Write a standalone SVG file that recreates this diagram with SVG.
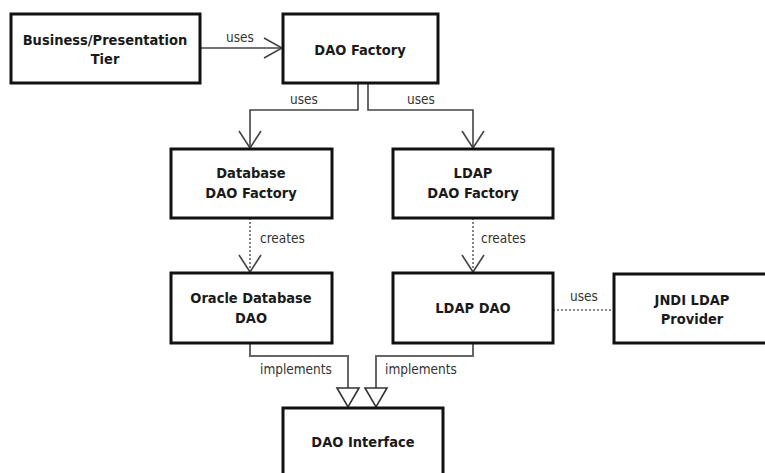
<svg xmlns="http://www.w3.org/2000/svg" width="765" height="473" viewBox="0 0 765 473">
  <style>
    .box { fill: #ffffff; stroke: #111111; stroke-width: 3; }
    .title { font-family: "DejaVu Sans Condensed", "Liberation Sans", sans-serif; font-weight: bold; font-size: 14.5px; fill: #1a1a1a; text-anchor: middle; }
    .lbl { font-family: "DejaVu Sans Condensed", "Liberation Sans", sans-serif; font-size: 13.5px; fill: #333333; }
    .line { fill: none; stroke: #444444; stroke-width: 1.6; }
    .dash { fill: none; stroke: #666666; stroke-width: 1.6; stroke-dasharray: 2 2; }
    .impl { fill: none; stroke: #666666; stroke-width: 2; }
    .chev { fill: none; stroke: #444444; stroke-width: 1.6; }
    .tri { fill: #ffffff; stroke: #333333; stroke-width: 1.6; }
  </style>
  <rect width="765" height="473" fill="#ffffff"/>

  <!-- connectors -->
  <g id="connectors">
    <!-- Business tier uses DAO Factory -->
    <path class="line" d="M200 48 H282"/>
    <path class="chev" d="M264 38 L282 48 L264 58"/>
    <text class="lbl" x="226" y="42">uses</text>

    <!-- DAO Factory uses Database DAO Factory -->
    <path class="line" d="M358 83 V110 H250 V148"/>
    <path class="chev" d="M239 131 L250 148 L261 131"/>
    <text class="lbl" x="290" y="104">uses</text>

    <!-- DAO Factory uses LDAP DAO Factory -->
    <path class="line" d="M368 83 V110 H473 V148"/>
    <path class="chev" d="M462 131 L473 148 L484 131"/>
    <text class="lbl" x="407" y="104">uses</text>

    <!-- creates -->
    <path class="dash" d="M250 218 V271"/>
    <path class="chev" d="M239 255 L250 272 L261 255"/>
    <text class="lbl" x="260" y="243">creates</text>

    <path class="dash" d="M473 218 V271"/>
    <path class="chev" d="M462 255 L473 272 L484 255"/>
    <text class="lbl" x="481" y="243">creates</text>

    <!-- LDAP DAO uses JNDI provider -->
    <path class="dash" d="M553 310 H614"/>
    <text class="lbl" x="570" y="301">uses</text>

    <!-- implements -->
    <path class="impl" d="M250 343 V356 H348 V388"/>
    <path class="tri" d="M337 388 H359 L348 407 Z"/>
    <text class="lbl" x="260" y="374">implements</text>

    <path class="impl" d="M473 343 V356 H376 V388"/>
    <path class="tri" d="M365 388 H387 L376 407 Z"/>
    <text class="lbl" x="385" y="374">implements</text>
  </g>

  <g id="business-tier">
    <rect class="box" x="11" y="14" width="189" height="69"/>
    <text class="title" x="105" y="45">Business/Presentation</text>
    <text class="title" x="105" y="64">Tier</text>
  </g>

  <g id="dao-factory">
    <rect class="box" x="283" y="14" width="155" height="69"/>
    <text class="title" x="360" y="55">DAO Factory</text>
  </g>

  <g id="database-dao-factory">
    <rect class="box" x="171" y="149" width="161" height="69"/>
    <text class="title" x="251" y="178">Database</text>
    <text class="title" x="251" y="198">DAO Factory</text>
  </g>

  <g id="ldap-dao-factory">
    <rect class="box" x="393" y="149" width="160" height="69"/>
    <text class="title" x="473" y="178">LDAP</text>
    <text class="title" x="473" y="198">DAO Factory</text>
  </g>

  <g id="oracle-database-dao">
    <rect class="box" x="171" y="273" width="161" height="70"/>
    <text class="title" x="251" y="303">Oracle Database</text>
    <text class="title" x="251" y="323">DAO</text>
  </g>

  <g id="ldap-dao">
    <rect class="box" x="393" y="273" width="160" height="70"/>
    <text class="title" x="473" y="313">LDAP DAO</text>
  </g>

  <g id="jndi-ldap-provider">
    <rect class="box" x="614" y="274" width="160" height="69"/>
    <text class="title" x="692" y="305">JNDI LDAP</text>
    <text class="title" x="692" y="324">Provider</text>
  </g>

  <g id="dao-interface">
    <rect class="box" x="283" y="408" width="160" height="70"/>
    <text class="title" x="363" y="447">DAO Interface</text>
  </g>
</svg>
